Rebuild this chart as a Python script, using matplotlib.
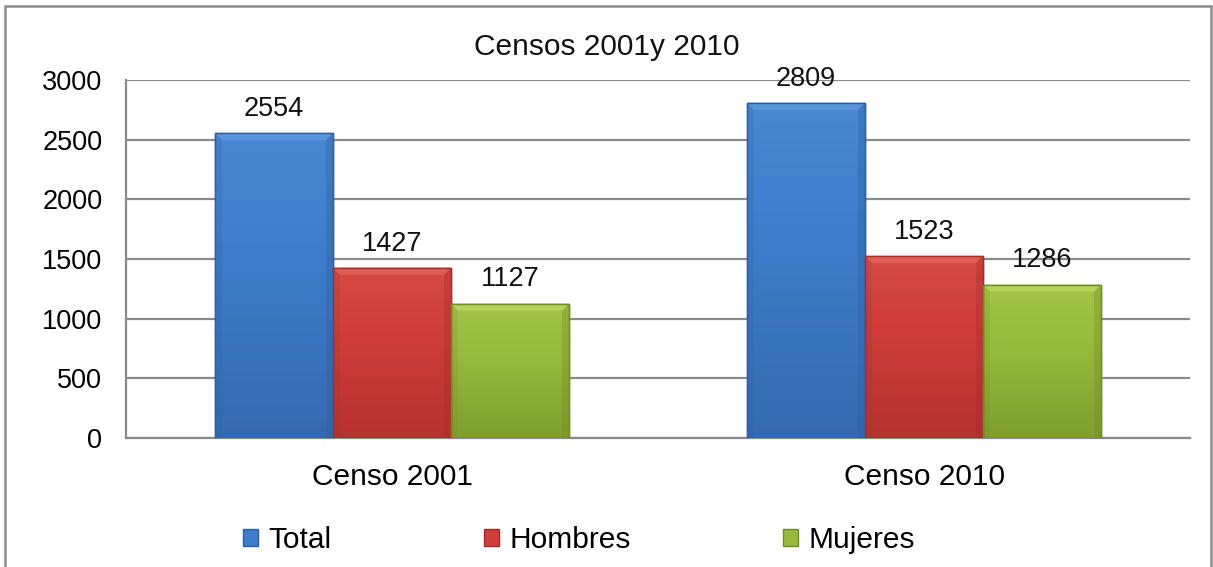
import numpy as np
import matplotlib.pyplot as plt
from matplotlib.patches import Rectangle, Polygon
from matplotlib.colors import LinearSegmentedColormap

plt.rcParams['font.family'] = ['Liberation Sans', 'DejaVu Sans']

categorias = ["Censo 2001", "Censo 2010"]
series = ["Total", "Hombres", "Mujeres"]
total = [2554, 2809]
hombres = [1427, 1523]
mujeres = [1127, 1286]
valores = [total, hombres, mujeres]
y_ticks = [0, 500, 1000, 1500, 2000, 2500, 3000]

# (claro, medio, oscuro)
colores = [("#5B97DE", "#3F7DCB", "#2D5E9E"),
           ("#E0605A", "#CF3D3A", "#A52C2A"),
           ("#B5D45A", "#98BA3C", "#6F8C27")]

fig = plt.figure(figsize=(12.13, 5.67), dpi=100)
ax = fig.add_axes([126 / 1213, 1 - 438 / 567, (1190 - 126) / 1213, (438 - 80) / 567])

# marco de la figura
fig.patches.append(Rectangle((5 / 1213, -0.05), (1211 - 5) / 1213, 0.989 + 0.05,
                             transform=fig.transFigure, fill=False,
                             edgecolor="#8c8c8c", lw=1.8))

x = np.arange(len(categorias))
ancho = 0.222
ax.set_xlim(-0.5, len(categorias) - 0.5)
ax.set_ylim(0, 3000)

# pixel -> unidades de datos
px_x = 1 / (1190 - 126) * 2
px_y = 3000 / (438 - 80)

for i, (nombre, vals) in enumerate(zip(series, valores)):
    claro, medio, oscuro = colores[i]
    pos = x + (i - 1) * ancho
    barras = ax.bar(pos, vals, width=ancho, color=medio, edgecolor=oscuro,
                    linewidth=1.0, label=nombre, zorder=3)
    cmap = LinearSegmentedColormap.from_list("g", [oscuro, medio, claro])
    for b in barras:
        x0, y0 = b.get_x(), b.get_y()
        w, h = b.get_width(), b.get_height()
        grad = np.linspace(0.2, 0.7, 64).reshape(-1, 1)
        im = ax.imshow(grad, cmap=cmap, vmin=0, vmax=1, aspect="auto",
                       extent=(x0, x0 + w, y0, y0 + h), origin="lower", zorder=3.1)
        im.set_clip_path(b)
        bx, by = 7 * px_x, 7 * px_y
        top = Polygon([(x0, y0 + h), (x0 + w, y0 + h), (x0 + w - bx, y0 + h - by),
                       (x0 + bx, y0 + h - by)], closed=True, facecolor=claro,
                      edgecolor="none", alpha=0.9, zorder=3.2)
        ax.add_patch(top)
        lado = Polygon([(x0 + w, y0 + h), (x0 + w, y0), (x0 + w - bx, y0),
                        (x0 + w - bx, y0 + h - by)], closed=True, facecolor=oscuro,
                       edgecolor="none", alpha=0.35, zorder=3.2)
        ax.add_patch(lado)
        izq = Polygon([(x0, y0 + h), (x0, y0), (x0 + bx, y0),
                       (x0 + bx, y0 + h - by)], closed=True, facecolor=oscuro,
                      edgecolor="none", alpha=0.2, zorder=3.2)
        ax.add_patch(izq)
        ax.add_patch(Rectangle((x0, y0), w, h, fill=False, edgecolor=oscuro,
                               lw=1.0, zorder=3.3))
        ax.annotate(f"{int(h)}", (x0 + w / 2, h), xytext=(0, 8),
                    textcoords="offset points", ha="center", va="bottom",
                    fontsize=19.5, color="#111111", zorder=4)

ax.set_yticks(y_ticks)
ax.yaxis.grid(True, color="#8a8a8a", lw=1.6, zorder=0)
ax.set_axisbelow(True)
ax.set_xticks(x)
ax.set_xticklabels(categorias, fontsize=21.5)
ax.tick_params(axis="y", length=0, pad=17, labelsize=19.5)
ax.tick_params(axis="x", length=0, pad=18)
for s in ["top", "right"]:
    ax.spines[s].set_visible(False)
for s in ["left", "bottom"]:
    ax.spines[s].set_color("#8a8a8a")
    ax.spines[s].set_linewidth(1.6)

fig.text(0.5, 1 - 47 / 567, "Censos 2001y 2010", ha="center", va="center",
         fontsize=21.5, color="#111111")

fig.legend(loc="center", bbox_to_anchor=(579 / 1213, 1 - 540 / 567), ncol=3,
           frameon=False, fontsize=21.5, handlelength=0.5, handleheight=0.5,
           handletextpad=0.35, columnspacing=5.1)

fig.savefig("out.png", dpi=100)
